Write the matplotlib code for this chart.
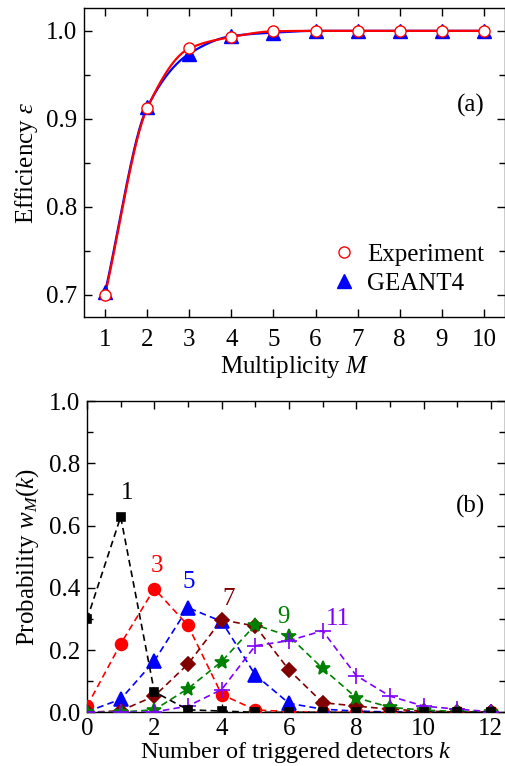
import numpy as np
import matplotlib
matplotlib.use("Agg")
import matplotlib.pyplot as plt
from matplotlib.ticker import MultipleLocator

plt.rcParams['font.family'] = ['Liberation Serif', 'DejaVu Serif']
plt.rcParams['mathtext.fontset'] = 'custom'
plt.rcParams['mathtext.rm'] = 'Liberation Serif'
plt.rcParams['mathtext.it'] = 'Liberation Serif:italic'

# ---- Panel (a) data ----
multiplicity = [1, 2, 3, 4, 5, 6, 7, 8, 9, 10]
eff_experiment = [0.700, 0.912, 0.980, 0.993, 0.9995, 1.0, 1.0, 1.0, 1.0, 1.0]
eff_geant4 = [0.703, 0.913, 0.974, 0.994, 0.998, 1.0, 1.0, 1.0, 1.0, 1.0]

# ---- Panel (b) data ----
k_values = [0, 1, 2, 3, 4, 5, 6, 7, 8, 9, 10, 11, 12]
w_M1 = [0.299, 0.628, 0.066, 0.008, 0.004, 0.0, 0.0, 0.0, 0.0, 0.0, 0.0, 0.0, 0.0]
w_M3 = [0.020, 0.220, 0.397, 0.279, 0.057, 0.008, 0.002, 0.0, 0.0, 0.0, 0.0, 0.0, 0.0]
w_M5 = [0.002, 0.042, 0.165, 0.336, 0.292, 0.120, 0.029, 0.010, 0.004, 0.001, 0.0, 0.0, 0.0]
w_M7 = [0.0, 0.005, 0.052, 0.155, 0.297, 0.277, 0.136, 0.031, 0.020, 0.010, 0.004, 0.001, 0.0]
w_M9 = [0.0, 0.001, 0.008, 0.076, 0.163, 0.281, 0.245, 0.141, 0.047, 0.016, 0.007, 0.003, 0.001]
w_M11 = [0.0, 0.0, 0.001, 0.020, 0.073, 0.214, 0.230, 0.262, 0.118, 0.052, 0.020, 0.010, 0.002]
series_labels = ['1', '3', '5', '7', '9', '11']
label_pos_k = [1.2, 2.07, 3.03, 4.22, 5.85, 7.45]
label_pos_w = [0.705, 0.47, 0.42, 0.365, 0.305, 0.30]


def pchip(x, y, n=300):
    x = np.asarray(x, float)
    y = np.asarray(y, float)
    h = np.diff(x)
    d = np.diff(y) / h
    m = np.zeros_like(y)
    for i in range(1, len(x) - 1):
        if d[i - 1] * d[i] <= 0:
            m[i] = 0.0
        else:
            w1 = 2 * h[i] + h[i - 1]
            w2 = h[i] + 2 * h[i - 1]
            m[i] = (w1 + w2) / (w1 / d[i - 1] + w2 / d[i])
    m[0] = d[0]
    m[-1] = d[-1]
    xs = np.linspace(x[0], x[-1], n)
    idx = np.clip(np.searchsorted(x, xs) - 1, 0, len(x) - 2)
    t = (xs - x[idx]) / h[idx]
    h00 = 2 * t**3 - 3 * t**2 + 1
    h10 = t**3 - 2 * t**2 + t
    h01 = -2 * t**3 + 3 * t**2
    h11 = t**3 - t**2
    ys = h00 * y[idx] + h10 * h[idx] * m[idx] + h01 * y[idx + 1] + h11 * h[idx] * m[idx + 1]
    return xs, ys


fig = plt.figure(figsize=(5.06, 7.66), dpi=100)
FS = 18

# ---------------- Panel (a) ----------------
ax1 = fig.add_axes([0.166, 0.5862, 0.832, 0.4034])
xs, ys = pchip(multiplicity, eff_geant4)
ax1.plot(xs, ys, color='blue', lw=1.6, zorder=2)
xs, ys = pchip(multiplicity, eff_experiment)
ax1.plot(xs, ys, color='red', lw=1.6, zorder=3)
ax1.plot(multiplicity, eff_geant4, linestyle='none', marker='^', ms=10,
         color='blue', zorder=4, label='GEANT4')
ax1.plot(multiplicity, eff_experiment, linestyle='none', marker='o', ms=8,
         markerfacecolor='white', markeredgecolor='red', mew=1.0, zorder=5,
         label='Experiment')
ax1.set_xlim(0.5, 10.5)
ax1.set_ylim(0.675, 1.026)
ax1.xaxis.set_major_locator(MultipleLocator(1))
ax1.yaxis.set_major_locator(MultipleLocator(0.1))
ax1.yaxis.set_minor_locator(MultipleLocator(0.05))
ax1.tick_params(which='both', direction='in', top=True, right=True,
                labelsize=FS, width=1.0)
ax1.tick_params(which='major', length=6)
ax1.tick_params(which='minor', length=4)
ax1.tick_params(axis='x', pad=9)
ax1.tick_params(axis='y', pad=5)
ax1.set_xlabel('Multiplicity $\\mathit{M}$', fontsize=FS, labelpad=2)
ax1.set_ylabel('Efficiency $\\mathit{\\varepsilon}$', fontsize=FS, labelpad=4)
ax1.text(0.952, 0.686, '(a)', transform=ax1.transAxes, fontsize=FS,
         ha='right', va='center')
h, l = ax1.get_legend_handles_labels()
ax1.legend(h[::-1], l[::-1], loc='lower right', bbox_to_anchor=(0.975, 0.04),
           frameon=False, fontsize=FS, handletextpad=0.35, borderaxespad=0,
           labelspacing=0.25, handlelength=1.2)
for s in ax1.spines.values():
    s.set_linewidth(1.0)

# ---------------- Panel (b) ----------------
ax2 = fig.add_axes([0.172, 0.0701, 0.826, 0.4064])
series = [w_M1, w_M3, w_M5, w_M7, w_M9, w_M11]
colors = ['black', 'red', 'blue', '#800000', '#008000', '#8000ff']
markers = ['s', 'o', '^', 'D', '*', '+']
msizes = [6, 8.5, 9.5, 7.5, 10, 11]
for i, (vals, c, mk, msz) in enumerate(zip(series, colors, markers, msizes)):
    ax2.plot(k_values, vals, linestyle=(0, (4, 2.5)), lw=1.2, color=c,
             marker=mk, ms=msz, mew=1.2, zorder=3 + i * 0.1 if i != 0 else 5)
    ax2.text(label_pos_k[i], label_pos_w[i], series_labels[i], color=c,
             fontsize=FS, ha='center', va='center')
ax2.set_xlim(0, 12.42)
ax2.set_ylim(0, 1.0)
ax2.xaxis.set_major_locator(MultipleLocator(2))
ax2.xaxis.set_minor_locator(MultipleLocator(1))
ax2.yaxis.set_major_locator(MultipleLocator(0.2))
ax2.yaxis.set_minor_locator(MultipleLocator(0.1))
ax2.tick_params(which='both', direction='in', top=True, right=True,
                labelsize=FS, width=1.0)
ax2.tick_params(which='major', length=6)
ax2.tick_params(which='minor', length=4)
ax2.tick_params(axis='x', pad=4)
ax2.tick_params(axis='y', pad=5)
ax2.set_xlabel('Number of triggered detectors $\\mathit{k}$', fontsize=17.5,
               labelpad=0)
ax2.set_ylabel('Probability $\\mathit{w}_{\\mathit{M}}(\\mathit{k})$',
               fontsize=FS, labelpad=6)
ax2.text(0.952, 0.66, '(b)', transform=ax2.transAxes, fontsize=FS,
         ha='right', va='center')
for s in ax2.spines.values():
    s.set_linewidth(1.0)

fig.savefig('out.png', dpi=100)
